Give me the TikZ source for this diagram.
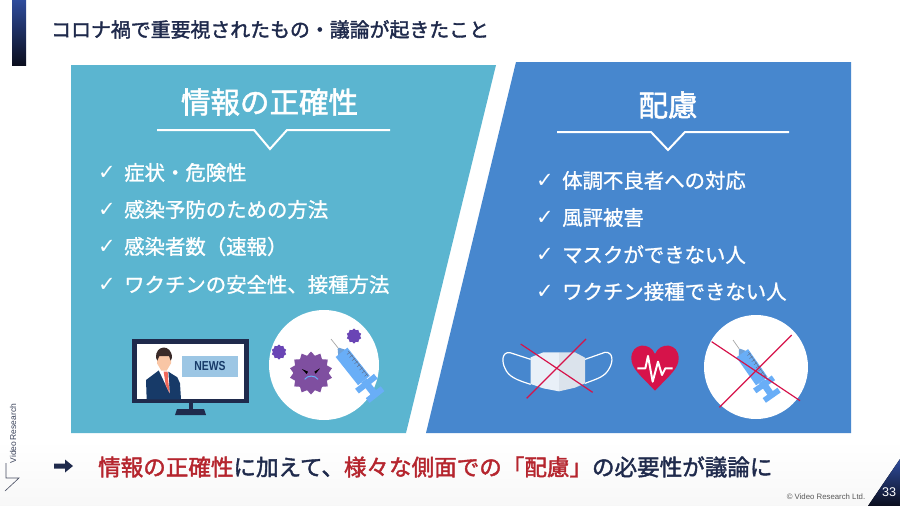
\documentclass[tikz,border=0pt]{standalone}
\usepackage{fontspec}
\setmainfont{Noto Sans CJK JP}
\newfontfamily\medA[FakeBold=1.8]{Noto Sans CJK JP}
\newfontfamily\medB[FakeBold=1.1]{Noto Sans CJK JP}
\newfontfamily\dejavu{DejaVu Sans}
\newfontfamily\libsans{Liberation Sans}
\usetikzlibrary{shapes.geometric}
\definecolor{navy}{HTML}{1F2A4C}
\definecolor{barTop}{HTML}{2F4C9C}
\definecolor{barEnd}{HTML}{0B0E1E}
\definecolor{panelA}{HTML}{5BB5D0}
\definecolor{panelB}{HTML}{4787CE}
\definecolor{crimson}{HTML}{B5252E}
\definecolor{crossred}{HTML}{D6134A}
\definecolor{virus}{HTML}{7F4FA0}
\definecolor{virusb}{HTML}{6A45B5}
\definecolor{syr}{HTML}{69AEF7}
\definecolor{suit}{HTML}{173A68}
\definecolor{skin}{HTML}{F9C6A5}
\definecolor{hair}{HTML}{3A2A28}
\definecolor{tie}{HTML}{F0685A}
\definecolor{newsbox}{HTML}{9CC6E4}
\definecolor{maskL}{HTML}{E9F0F8}
\definecolor{maskR}{HTML}{DBE3EC}
\tikzset{
  x=1pt,y=-1pt,
  title/.style={anchor=west,inner sep=0pt,text=navy,font=\medA\fontsize{19.9}{24}\selectfont},
  heading/.style={inner sep=0pt,text=white,font=\medA\fontsize{29.5}{34}\selectfont},
  item/.style={anchor=west,inner sep=0pt,text=white,font=\medB\fontsize{20.4}{24}\selectfont},
  tick/.style={inner sep=0pt,text=white,font=\dejavu\fontsize{21}{24}\selectfont},
  rule/.style={draw=white,line width=2pt,line join=miter},
  crossline/.style={draw=crossred,line width=1.2pt},
  summary/.style={anchor=west,inner sep=0pt,font=\medA\fontsize{22.55}{26}\selectfont},
  spiky/.style={star,star points=#1,star point ratio=1.22,inner sep=0pt,draw=none},
  zoomA/.style={shift={(100,320)},x=0.33333pt,y=-0.33333pt},
  zoomB/.style={shift={(490,320)},x=0.33333pt,y=-0.33333pt},
}
\newcommand{\syringe}[3]{%
  \begin{scope}[shift={(#1)},rotate=#2,x=#3pt,y=#3pt]
    \draw[gray!70,line width=0.7pt] (0,0) -- (13,0);
    \fill[syr!75!gray] (12,-1) -- (18,-5) -- (18,5) -- (12,1) -- cycle;
    \fill[syr] (17,-7.5) rectangle (53,7.5);
    \foreach \t in {22,26,...,50}{\draw[navy!70,line width=0.4pt] (\t,3) -- (\t,7);}
    \draw[navy!70,line width=0.4pt] (20,6) -- (52,6);
    \fill[syr] (53,-3.5) rectangle (70,3.5);
    \fill[syr] (54,-12) rectangle (60,12);
    \fill[syr] (68,-9.5) rectangle (74,9.5);
  \end{scope}}
\begin{document}
\begin{tikzpicture}
\useasboundingbox (0,0) rectangle (900,506);
\fill[white] (0,0) rectangle (900,506);
\fill[top color=white,bottom color=black!3] (0,440) rectangle (900,506);
% top bar
\fill[top color=barTop,bottom color=barEnd] (12,0) rectangle (26,65);
\node[title] (pagetitle) at (51,29.5) {コロナ禍で重要視されたもの・議論が起きたこと};
% panels
\fill[panelA] (71,65) -- (496,65) -- (406,433) -- (71,433) -- cycle;
\fill[panelB] (516,62) -- (851,62) -- (851,433) -- (426,433) -- cycle;
% headings
\node[heading] (headA) at (269.5,102) {情報の正確性};
\node[heading] (headB) at (668,105) {配慮};
\draw[rule] (157,130) -- (254,130) -- (270,149) -- (287,130) -- (390,130);
\draw[rule] (557,132) -- (651,132) -- (668,150) -- (685,132) -- (789,132);
% lists
\foreach \y/\t in {172.5/症状・危険性,209.5/感染予防のための方法,246.5/感染者数（速報）,284.5/ワクチンの安全性、接種方法}{
  \node[tick] at (107,\y) {✓};
  \node[item] at (124,\y) {\t};
}
\foreach \y/\t in {180.5/体調不良者への対応,217.5/風評被害,254.5/マスクができない人,291.5/ワクチン接種できない人}{
  \node[tick] at (545,\y) {✓};
  \node[item] at (562,\y) {\t};
}
% TV
\fill[navy] (132,339) rectangle (249,403);
\fill[white] (137,344) rectangle (244,399);
\fill[navy] (188.5,403) rectangle (192.5,410);
\fill[navy] (177,409) -- (204,409) -- (206,415) -- (175,415) -- cycle;
\begin{scope}[zoomA]
  \fill[suit] (138,180) -- (178,150) -- (192,155) -- (205,155) -- (232,172) -- (240,190) -- (243,238) -- (140,238) -- cycle;
  \fill[white] (176,150) -- (205,152) -- (209,220) -- cycle;
  \fill[tie] (191,155) -- (203,155) -- (205,185) -- (209,220) -- (197,195) -- cycle;
  \fill[skin] (171,108) -- (213,108) -- (213,130) -- (200,152) -- (184,152) -- (171,130) -- cycle;
  \fill[hair] (168,113) .. controls (165,75) and (215,70) .. (216,113) -- (212,122) -- (207,108) -- (178,108) -- (172,122) -- cycle;
\end{scope}
\fill[newsbox] (182,355.5) rectangle (238,377);
\node[inner sep=0pt,text=suit,xscale=0.8] (newslabel) at (210,366.5) {\libsans\bfseries\fontsize{13}{15}\selectfont NEWS};
% left circle
\fill[white] (324,365) circle (55);
\node[spiky=14,fill=virus,minimum size=43pt] (bigvirus) at (311,373) {};
\node[spiky=10,fill=virusb,minimum size=15pt] (smallvirusA) at (279,352) {};
\node[spiky=10,fill=virusb,minimum size=15pt] (smallvirusB) at (354,336) {};
\begin{scope}[zoomA]
  \fill[black] (606,147) -- (624,155) -- (620,162) -- cycle;
  \fill[black] (660,145) -- (643,155) -- (647,161) -- cycle;
  \draw[syr,line width=1pt] (614,178) .. controls (622,165) and (645,165) .. (654,178);
\end{scope}
\syringe{331,339}{-51.6}{1}
% mask
\begin{scope}[zoomB]
  \draw[white,line width=1.2pt] (122,118) -- (60,98) .. controls (35,95) and (35,125) .. (45,145) .. controls (55,170) and (80,180) .. (122,193);
  \draw[white,line width=1.2pt] (285,118) -- (345,97) .. controls (370,95) and (370,125) .. (358,145) .. controls (345,170) and (325,175) .. (285,190);
  \fill[maskL] (122,112) -- (160,97) -- (207,97) -- (207,214) -- (160,205) -- (122,192) -- cycle;
  \fill[maskR] (207,97) -- (255,97) -- (285,113) -- (285,190) -- (255,203) -- (207,214) -- cycle;
  \draw[crossline] (92,72) -- (308,217);
  \draw[crossline] (288,57) -- (110,235);
  % heart
  \fill[crossred] (495,212) .. controls (450,165) and (424,145) .. (424,115) .. controls (424,68) and (480,65) .. (495,102) .. controls (510,65) and (566,68) .. (566,115) .. controls (566,145) and (540,165) .. (495,212) -- cycle;
  \draw[white,line width=2pt,line join=round] (442,145) -- (466,145) -- (474,108) -- (488,185) -- (504,125) -- (516,165) -- (526,145) -- (548,145);
\end{scope}
% right circle
\fill[white] (756,367) circle (52);
\syringe{733,340}{-55}{0.95}
\begin{scope}[zoomB]
  \draw[crossline] (665,65) -- (930,242);
  \draw[crossline] (905,45) -- (688,262);
\end{scope}
% summary
\fill[navy] (54,463.5) -- (65,463.5) -- (65,459.5) -- (73,466) -- (65,472.5) -- (65,468.5) -- (54,468.5) -- cycle;
\node[summary] (summary) at (98,467) {\textcolor{crimson}{情報の正確性}\textcolor{navy}{に加えて、}\textcolor{crimson}{様々な側面での「配慮」}\textcolor{navy}{の必要性が議論に}};
% logo
\node[rotate=90,inner sep=0pt,text=navy!70!gray] (logotext) at (13,433.5) {\libsans\fontsize{8.5}{10}\selectfont Video\,Research};
\draw[navy!60!gray,line width=0.6pt] (6,463) -- (6,478) -- (19,478) -- (5,491);
% footer
\node[inner sep=0pt,text=black!65] (copyright) at (826,497) {\libsans\fontsize{7.8}{10}\selectfont © Video Research Ltd.};
\fill[top color=barTop,bottom color=barEnd] (900,459) -- (900,506) -- (868,506) -- cycle;
\node[inner sep=0pt,text=white] (pagenum) at (889,492) {\libsans\fontsize{12.6}{14}\selectfont 33};
\end{tikzpicture}
\end{document}
